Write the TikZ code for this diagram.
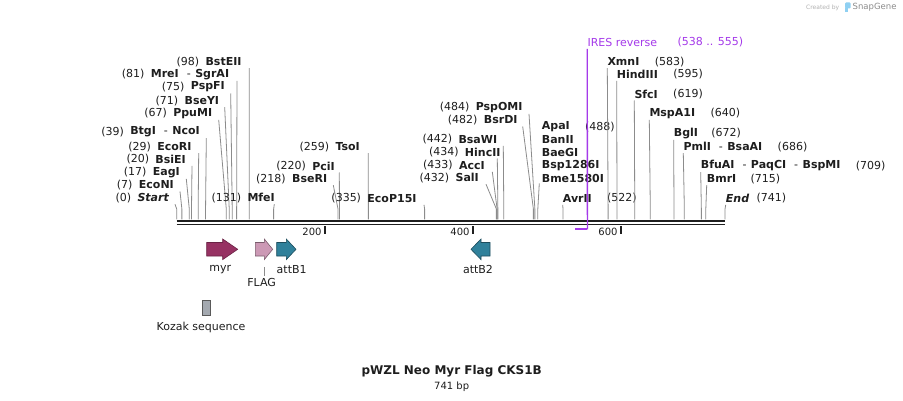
\documentclass[tikz,border=0pt]{standalone}
\usepackage{fontspec}
\setmainfont{DejaVu Sans}
\usetikzlibrary{calc}

\definecolor{txt}{HTML}{1E1E1E}
\definecolor{leadgray}{HTML}{8C8C8C}
\definecolor{bbcol}{HTML}{1F1F1F}
\definecolor{iresviolet}{HTML}{A53AEA}
\definecolor{myrred}{HTML}{973263}
\definecolor{flagpink}{HTML}{CC99B5}
\definecolor{attteal}{HTML}{30819B}
\definecolor{kozakgray}{HTML}{A4A9B0}
\definecolor{snapblue}{HTML}{8FD0F2}

\tikzset{
  enz/.style={font=\fontsize{11}{13}\selectfont\bfseries, text=txt, inner sep=0pt},
  bpnum/.style={font=\fontsize{11}{13}\selectfont, text=txt, inner sep=0pt},
  leader/.style={draw=leadgray, line width=0.8pt},
  feat/.style={line width=0.6pt},
  featlbl/.style={font=\fontsize{11}{13}\selectfont, text=txt, inner sep=0pt},
}

% separator between names that cut at the same place
\newcommand{\dashsep}{\mdseries\hspace{8pt}-\hspace{4.5pt}\bfseries}

% site with its label on the left: id, bp text, name, text end x, row y, line top x, bp
\newcommand{\siteL}[7]{%
  \node[enz, anchor=east] (#1) at (#4,#5) {#3};
  \node[bpnum, anchor=east] (#1-n) at ([xshift=-6pt]#1.west) {(#2)};
  \coordinate (#1-t) at (#6,#5+6.5);
  \coordinate (#1-s) at ({176.7+0.74*#7},219.5);
  \draw[leader] (#1-t) -- ($(#1-s)+(0,-10.5)$) -- (#1-s);
}
% site with its label on the right: [gap] id, bp text, name, x, row y, bp
\newcommand{\siteR}[7][15]{%
  \node[enz, anchor=west] (#2) at (#5,#6) {#4};
  \node[bpnum, anchor=west] (#2-n) at ([xshift=#1pt]#2.east) {(#3)};
  \coordinate (#2-t) at (#5,#6+6.5);
  \coordinate (#2-s) at ({176.7+0.74*#7},219.5);
  \draw[leader] (#2-t) -- ($(#2-s)+(0,-10.5)$) -- (#2-s);
}

\begin{document}
\begin{tikzpicture}[x=1pt,y=-1pt]
  \fill[white] (0,0) rectangle (903,401);
  \useasboundingbox (0,0) rectangle (903,401);

  % enzymes, left hand labels
  \siteL{Start}{0}{\itshape Start}{169}{197.7}{175}{0}
  \siteL{EcoNI}{7}{EcoNI}{174}{185}{180}{7}
  \siteL{EagI}{17}{EagI}{180}{172.3}{186.3}{17}
  \siteL{BsiEI}{20}{BsiEI}{186}{159.3}{192}{20}
  \siteL{EcoRI}{29}{EcoRI}{191.7}{146.7}{198.7}{29}
  \siteL{NcoI}{39}{BtgI\dashsep NcoI}{200}{131.7}{206.3}{39}
  \siteL{PpuMI}{67}{PpuMI}{212.3}{113.3}{218.7}{67}
  \siteL{BseYI}{71}{BseYI}{219.3}{100.7}{224.7}{71}
  \siteL{PspFI}{75}{PspFI}{225}{87}{230.7}{75}
  \siteL{SgrAI}{81}{MreI\dashsep SgrAI}{229.3}{74.3}{237}{81}
  \siteL{BstEII}{98}{BstEII}{241.7}{61.7}{249.3}{98}
  \siteL{MfeI}{131}{MfeI}{275}{197.7}{274.3}{131}
  \siteL{BseRI}{218}{BseRI}{327.3}{178.7}{333.3}{218}
  \siteL{PciI}{220}{PciI}{335}{166}{339.3}{220}
  \siteL{TsoI}{259}{TsoI}{360}{146.7}{368.3}{259}
  \siteL{EcoPI}{335}{EcoP15I}{416.7}{198.3}{424}{335}
  \siteL{SalI}{432}{SalI}{479}{177.7}{486}{432}
  \siteL{AccI}{433}{AccI}{485}{165.3}{492.3}{433}
  \siteL{HincII}{434}{HincII}{500.7}{152}{497.3}{434}
  \siteL{BsaWI}{442}{BsaWI}{497.3}{139.3}{503.3}{442}
  \siteL{BsrDI}{482}{BsrDI}{517.7}{120}{522.7}{482}
  \siteL{PspOMI}{484}{PspOMI}{522.7}{107.3}{529}{484}

  % five names, one site
  \foreach \nm/\row in {ApaI/126.7, BanII/139.3, BaeGI/152, Bsp1286I/165.3, Bme1580I/178}
    \node[enz, anchor=west] (\nm) at (541.7,\row) {\nm};
  \node[bpnum, anchor=west] (ApaI-n) at ([xshift=15pt]ApaI.east) {(488)};
  \coordinate (Bme-t) at (539.3,183.3);
  \coordinate (Bme-s) at ({176.7+0.74*488},219.5);
  \draw[leader] (Bme-t) -- ($(Bme-s)+(0,-10.5)$) -- (Bme-s);

  % enzymes, right hand labels
  \siteR{AvrII}{522}{AvrII}{562.7}{198.3}{522}
  \siteR{XmnI}{583}{XmnI}{607.3}{61.7}{583}
  \siteR{HindIII}{595}{HindIII}{616.7}{74.3}{595}
  \siteR{SfcI}{619}{SfcI}{634.3}{94}{619}
  \siteR{MspAI}{640}{MspA1I}{649.3}{113.3}{640}
  \siteR[13]{BglI}{672}{BglI}{673.7}{133.3}{672}
  \siteR{BsaAI}{686}{PmlI\dashsep BsaAI}{683.3}{146.7}{686}
  \siteR{BspMI}{709}{BfuAI\dashsep PaqCI\dashsep BspMI}{700.7}{165.7}{709}
  \siteR[14]{BmrI}{715}{BmrI}{706.7}{178.7}{715}
  \siteR[7]{End}{741}{\itshape End}{725.7}{198.3}{741}

  % backbone
  \coordinate (ori) at (176.7,220.8);
  \coordinate (fin) at (725,220.8);
  \draw[bbcol, line width=2.5pt] (ori) -- (fin);
  \draw[bbcol, line width=1.7pt] ([yshift=-3.7pt]ori) -- ([yshift=-3.7pt]fin);
  \foreach \k in {200,400,600} {
    \draw[bbcol, line width=1.6pt] ({176.7+0.74*\k},226.3) -- ++(0,7.5);
    \node[font=\fontsize{10}{12}\selectfont, text=txt, anchor=east, inner sep=0pt]
      (tick\k) at ({176.7+0.74*\k-3},231.6) {\k};
  }

  % IRES reverse primer
  \node[bpnum, text=iresviolet, anchor=west] (IRES) at (587.3,42.3) {IRES reverse};
  \node[bpnum, text=iresviolet, anchor=west] (IRES-n) at ([xshift=20pt]IRES.east) {(538 .. 555)};
  \coordinate (IRES-t) at (587.3,49);
  \coordinate (IRES-b) at ({176.7+0.74*555},229.3);
  \coordinate (IRES-a) at ({176.7+0.74*538},229.3);
  \draw[iresviolet, line width=1.3pt] (IRES-t) -- (IRES-b);
  \draw[iresviolet, line width=1.8pt] (IRES-b) -- (IRES-a);

  % features
  \draw[feat, fill=myrred, draw=myrred!70!black]
    (206.7,242.5) -- (222.7,242.5) -- (222.7,239) -- (237.7,249.3) -- (222.7,259.6)
    -- (222.7,256) -- (206.7,256) -- cycle;
  \draw[feat, fill=flagpink, draw=flagpink!60!black]
    (255.3,242.5) -- (264.3,242.5) -- (264.3,239) -- (272.7,249.3) -- (264.3,259.6)
    -- (264.3,256) -- (255.3,256) -- cycle;
  \draw[feat, fill=attteal, draw=attteal!60!black]
    (276.7,242.5) -- (286.3,242.5) -- (286.3,239) -- (296,249.3) -- (286.3,259.6)
    -- (286.3,256) -- (276.7,256) -- cycle;
  \draw[feat, fill=attteal, draw=attteal!60!black]
    (490,242.5) -- (481,242.5) -- (481,239) -- (471,249.3) -- (481,259.6)
    -- (481,256) -- (490,256) -- cycle;
  \draw[feat, fill=kozakgray, draw=black!65] (202.7,300) rectangle (210.7,315);

  \node[featlbl] (myr) at (220.2,270) {myr};
  \node[featlbl] (attB1) at (291.7,270) {attB1};
  \node[featlbl] (attB2) at (478,269.3) {attB2};
  \node[featlbl] (FLAG) at (261.7,282.7) {FLAG};
  \coordinate (FLAG-a) at (264.7,266.8);
  \draw[leader] (FLAG-a) -- ($(FLAG-a |- FLAG.north)+(0,-2)$);
  \node[featlbl] (Kozak) at (201,327.7) {Kozak sequence};

  % title
  \node[font=\fontsize{12}{14}\selectfont\bfseries, text=txt] (title) at (451.7,371.7)
    {pWZL Neo Myr Flag CKS1B};
  \node[font=\fontsize{10}{12}\selectfont, text=txt] (size) at (451.7,386.7) {741 bp};

  % credit line
  \node[font=\fontsize{6}{7}\selectfont, text=black!30, anchor=west, inner sep=0pt]
    (credit) at (806,7.5) {Created by};
  \fill[snapblue, rounded corners=1pt] (845,2.5) rectangle (850.5,8.5);
  \fill[snapblue] (845,8) rectangle (847.5,12.5);
  \node[font=\fontsize{8.5}{10}\selectfont, text=black!45, anchor=west, inner sep=0pt]
    (snapgene) at (852.5,7.5) {SnapGene};
\end{tikzpicture}
\end{document}
